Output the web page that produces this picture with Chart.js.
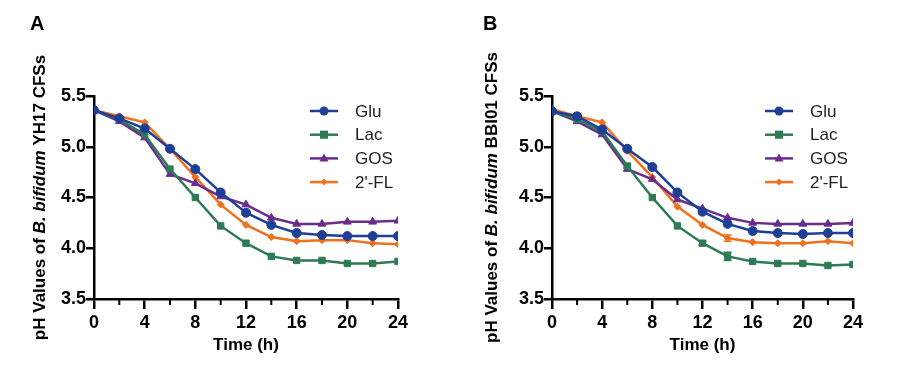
<!DOCTYPE html>
<html>
<head>
<meta charset="utf-8">
<script src="https://cdn.jsdelivr.net/npm/chart.js@4.4.0/dist/chart.umd.min.js"></script>
<style>
  html, body { margin: 0; padding: 0; background: #fff; }
  #wrap { position: relative; width: 910px; height: 366px; }
  .panel { position: absolute; top: 0; width: 455px; height: 366px; }
</style>
</head>
<body>
<div id="wrap">
  <div class="panel" style="left:0"><canvas id="cA" width="455" height="366"></canvas></div>
  <div class="panel" style="left:455px"><canvas id="cB" width="455" height="366"></canvas></div>
</div>
<script>
// ---- data ----
const timeH = [0, 2, 4, 6, 8, 10, 12, 14, 16, 18, 20, 22, 24];
const seriesNames = ['Glu', 'Lac', 'GOS', "2'-FL"];
const yTicks = [3.5, 4.0, 4.5, 5.0, 5.5];
const xLabelTicks = [0, 4, 8, 12, 16, 20, 24];

const A_Glu = [5.36, 5.28, 5.18, 4.98, 4.78, 4.55, 4.35, 4.23, 4.15, 4.13, 4.12, 4.12, 4.12];
const A_Lac = [5.36, 5.27, 5.12, 4.78, 4.50, 4.22, 4.05, 3.92, 3.88, 3.88, 3.85, 3.85, 3.87];
const A_GOS = [5.36, 5.25, 5.09, 4.73, 4.64, 4.51, 4.43, 4.30, 4.24, 4.24, 4.26, 4.26, 4.27];
const A_FL  = [5.36, 5.30, 5.24, 4.98, 4.70, 4.43, 4.23, 4.11, 4.07, 4.08, 4.08, 4.05, 4.04];

const B_Glu = [5.35, 5.30, 5.17, 4.98, 4.80, 4.55, 4.36, 4.24, 4.17, 4.15, 4.14, 4.15, 4.15];
const B_Lac = [5.35, 5.27, 5.15, 4.81, 4.50, 4.22, 4.05, 3.92, 3.87, 3.85, 3.85, 3.83, 3.84];
const B_GOS = [5.35, 5.25, 5.12, 4.78, 4.68, 4.48, 4.39, 4.30, 4.25, 4.24, 4.24, 4.24, 4.25];
const B_FL  = [5.37, 5.30, 5.24, 4.96, 4.70, 4.41, 4.23, 4.10, 4.06, 4.05, 4.05, 4.07, 4.05];

// error bars (SD) visible in the picture
const B_Lac_err = [0, 0, 0, 0.02, 0, 0, 0.02, 0.04, 0, 0, 0, 0, 0];
const B_FL_err  = [0, 0, 0, 0, 0, 0, 0, 0.03, 0, 0, 0, 0, 0];

const colors = ['#1d3f95', '#2e7a55', '#6a2d8e', '#f0701e'];
const pointStyles = ['circle', 'rect', 'triangle', 'rectRot'];
const pointRadii = [4.5, 4.5, 4.5, 3.5];

const FONT = '"Liberation Sans", Arial, Helvetica, sans-serif';

function makeDatasets(arrs, errs) {
  return arrs.map((d, i) => ({
    label: seriesNames[i],
    data: d,
    err: errs[i] || null,
    borderColor: colors[i],
    backgroundColor: colors[i],
    borderWidth: 2.5,
    pointStyle: pointStyles[i],
    pointRadius: pointRadii[i],
    pointHoverRadius: pointRadii[i],
    pointBorderWidth: 1,
    tension: 0,
    order: i
  }));
}

const decorPlugin = {
  id: 'decor',
  beforeDatasetsDraw(chart) {
    const ctx = chart.ctx;
    const xs = chart.scales.x, ys = chart.scales.y;
    chart.data.datasets.forEach((ds) => {
      if (!ds.err) return;
      ctx.save();
      ctx.strokeStyle = ds.borderColor;
      ctx.lineWidth = 1.5;
      ds.err.forEach((e, j) => {
        if (!e) return;
        const x = xs.getPixelForValue(chart.data.labels[j]);
        const y1 = ys.getPixelForValue(ds.data[j] + e);
        const y2 = ys.getPixelForValue(ds.data[j] - e);
        ctx.beginPath();
        ctx.moveTo(x, y1); ctx.lineTo(x, y2);
        ctx.moveTo(x - 4, y1); ctx.lineTo(x + 4, y1);
        ctx.moveTo(x - 4, y2); ctx.lineTo(x + 4, y2);
        ctx.stroke();
      });
      ctx.restore();
    });
  },
  afterDraw(chart) {
    const o = chart.options.plugins.decor;
    const ctx = chart.ctx;
    const ca = chart.chartArea;
    const xs = chart.scales.x;
    ctx.save();
    // minor x ticks
    ctx.strokeStyle = '#000';
    ctx.lineWidth = 2;
    timeH.forEach(t => {
      if (xLabelTicks.includes(t)) return;
      const x = xs.getPixelForValue(t);
      ctx.beginPath();
      ctx.moveTo(x, ca.bottom);
      ctx.lineTo(x, ca.bottom + 6);
      ctx.stroke();
    });
    // panel letter
    ctx.fillStyle = '#000';
    ctx.font = 'bold 20px ' + FONT;
    ctx.textBaseline = 'alphabetic';
    ctx.textAlign = 'left';
    ctx.fillText(o.letter, o.letterX, 30);
    // x title
    ctx.font = 'bold 17px ' + FONT;
    ctx.textAlign = 'center';
    ctx.textBaseline = 'middle';
    ctx.fillText('Time (h)', (ca.left + ca.right) / 2, 345);
    // y title, mixed italic
    const parts = [
      ['pH Values of ', 'bold '],
      ['B. bifidum', 'italic bold '],
      [' ' + o.strain + ' CFSs', 'bold ']
    ];
    const size = '17px ';
    let total = 0;
    parts.forEach(p => { ctx.font = p[1] + size + FONT; total += ctx.measureText(p[0]).width; });
    ctx.translate(o.titleX, (ca.top + ca.bottom) / 2);
    ctx.rotate(-Math.PI / 2);
    ctx.textAlign = 'left';
    let cx = -total / 2;
    parts.forEach(p => {
      ctx.font = p[1] + size + FONT;
      ctx.fillText(p[0], cx, 0);
      cx += ctx.measureText(p[0]).width;
    });
    ctx.setTransform(1, 0, 0, 1, 0, 0);
    // legend
    ctx.font = '17px ' + FONT;
    ctx.textAlign = 'left';
    ctx.textBaseline = 'middle';
    chart.data.datasets.forEach((ds, i) => {
      const y = 111 + i * 23.7;
      const x0 = ca.right - 88;
      ctx.strokeStyle = ds.borderColor;
      ctx.lineWidth = 2.5;
      ctx.beginPath();
      ctx.moveTo(x0, y); ctx.lineTo(x0 + 28, y);
      ctx.stroke();
      drawMarker(ctx, ds.pointStyle, x0 + 14, y, ds.pointRadius, ds.backgroundColor);
      ctx.fillStyle = '#222';
      ctx.fillText(ds.label, x0 + 45, y + 1);
    });
    ctx.restore();
  }
};

function drawMarker(ctx, style, x, y, r, color) {
  ctx.save();
  ctx.fillStyle = color;
  ctx.beginPath();
  if (style === 'circle') {
    ctx.arc(x, y, r, 0, Math.PI * 2);
  } else if (style === 'rect') {
    ctx.rect(x - r * 0.9, y - r * 0.9, r * 1.8, r * 1.8);
  } else if (style === 'triangle') {
    ctx.moveTo(x, y - r * 1.1);
    ctx.lineTo(x + r, y + r * 0.7);
    ctx.lineTo(x - r, y + r * 0.7);
    ctx.closePath();
  } else {
    ctx.moveTo(x, y - r); ctx.lineTo(x + r, y); ctx.lineTo(x, y + r); ctx.lineTo(x - r, y);
    ctx.closePath();
  }
  ctx.fill();
  ctx.restore();
}

function makeChart(id, arrs, errs, letter, strain, leftW, titleX, letterX) {
  return new Chart(document.getElementById(id), {
    type: 'line',
    data: { labels: timeH, datasets: makeDatasets(arrs, errs) },
    plugins: [decorPlugin],
    options: {
      responsive: false,
      animation: false,
      events: [],
      layout: { padding: { left: 0, right: 57, top: 96, bottom: 0 }, autoPadding: false },
      plugins: {
        legend: { display: false },
        tooltip: { enabled: false },
        decor: { letter: letter, strain: strain, titleX: titleX, letterX: letterX }
      },
      scales: {
        x: {
          type: 'linear',
          min: 0, max: 24,
          afterBuildTicks: (s) => { s.ticks = xLabelTicks.map(v => ({ value: v })); },
          afterFit: (s) => { s.height = 67; },
          grid: { drawOnChartArea: false, drawTicks: true, tickLength: 10, color: '#000', lineWidth: 2.5 },
          border: { display: true, color: '#000', width: 2.5 },
          ticks: { color: '#000', font: { family: FONT, size: 18, weight: 'bold' }, padding: 3, maxRotation: 0, autoSkip: false }
        },
        y: {
          min: 3.5, max: 5.5,
          afterBuildTicks: (s) => { s.ticks = yTicks.map(v => ({ value: v })); },
          afterFit: (s) => { s.width = leftW; },
          grid: { drawOnChartArea: false, drawTicks: true, tickLength: 8, color: '#000', lineWidth: 2.5 },
          border: { display: true, color: '#000', width: 2.5 },
          ticks: { color: '#000', font: { family: FONT, size: 18, weight: 'bold' }, padding: 0,
                   callback: (v) => Number(v).toFixed(1) }
        }
      }
    }
  });
}

makeChart('cA', [A_Glu, A_Lac, A_GOS, A_FL], [null, null, null, null], 'A', 'YH17', 94, 40, 30);
makeChart('cB', [B_Glu, B_Lac, B_GOS, B_FL], [null, B_Lac_err, null, B_FL_err], 'B', 'BBI01', 97, 37, 28);
</script>
</body>
</html>
